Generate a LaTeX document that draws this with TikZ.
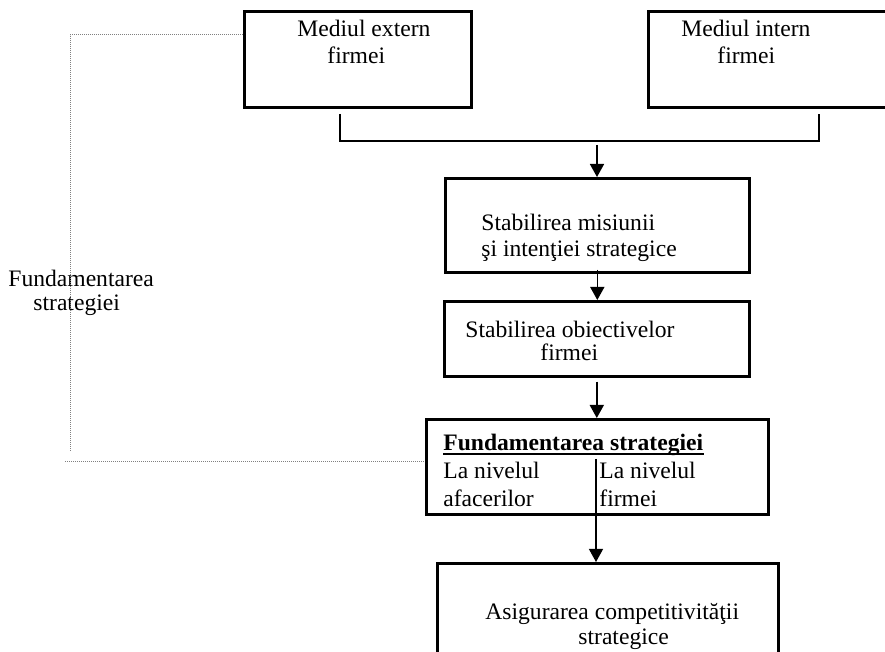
\documentclass[tikz,border=0pt]{standalone}
\usepackage{fontspec}
\setmainfont{Liberation Serif}
\usetikzlibrary{arrows.meta}
\begin{document}
\begin{tikzpicture}[x=0.5pt,y=-0.5pt,
  box/.style={draw, line width=1.3pt, inner sep=0, anchor=north west},
  txt/.style={inner sep=0, anchor=base west, font=\fontsize{11.8}{13.5}\selectfont},
  flow/.style={line width=0.8pt, -{Triangle[width=7pt,length=6.5pt]}},
  thinflow/.style={line width=0.6pt, -{Triangle[width=7pt,length=6.5pt]}},
  bracket/.style={line width=1pt},
  dots/.style={line width=0.5pt, gray, dash pattern=on 0.5pt off 0.5pt}]
\useasboundingbox (0,0) rectangle (885,652);
\clip (0,0) rectangle (885,652);

% boxes
\node[box, minimum width=113.5pt, minimum height=48pt]   (b1) at (243,10)  {};
\node[box, minimum width=121.5pt, minimum height=48pt]   (b2) at (647,10)  {};
\node[box, minimum width=152pt,   minimum height=47pt]   (b3) at (444,177) {};
\node[box, minimum width=152.5pt, minimum height=37.5pt] (b4) at (443,300) {};
\node[box, minimum width=171pt,   minimum height=47.5pt] (b5) at (425,418) {};
\node[box, minimum width=170.5pt, minimum height=54pt]   (b6) at (436,562) {};

% texts
\node[txt] (t1a) at (297,37) {Mediul extern};
\node[txt] (t1b) at (327,64) {firmei};
\node[txt] (t2a) at (681,37) {Mediul intern};
\node[txt] (t2b) at (717,64) {firmei};
\node[txt] (t3a) at (481,231) {Stabilirea misiunii};
\node[txt] (t3b) at (481,257) {şi intenţiei strategice};
\node[txt] (t4a) at (465,338) {Stabilirea obiectivelor};
\node[txt] (t4b) at (540,361) {firmei};
\node[txt, font=\fontsize{11.8}{13.5}\selectfont\bfseries] (t5) at (443,451) {Fundamentarea strategiei};
\node[txt] (t5a) at (443,479) {La nivelul};
\node[txt] (t5b) at (443,507) {afacerilor};
\node[txt] (t5c) at (599,479) {La nivelul};
\node[txt] (t5d) at (599,507) {firmei};
\node[txt] (t6a) at (485,620) {Asigurarea competitivităţii};
\node[txt] (t6b) at (578,645) {strategice};
\node[txt] (L1) at (8,287) {Fundamentarea};
\node[txt] (L2) at (33,311) {strategiei};

% underline of the heading
\draw[line width=1pt] ([yshift=-1.6pt]t5.base west) -- ([yshift=-1.6pt]t5.base east);

% bracket joining the two environments
\coordinate (jl) at (340,114);
\coordinate (jr) at (819,114);
\coordinate (jy) at (0,141);
\draw[bracket] (jl) -- (jl |- jy) -- (jr |- jy) -- (jr);

% flow arrows
\coordinate (j) at (597,145);
\draw[flow] (j) -- (j |- b3.north);
\draw[flow] ([yshift=2pt]b3.south) -- (b3.south |- b4.north);
\draw[flow] ([yshift=-2pt]b4.south) -- (b4.south |- b5.north);
\coordinate (dv) at (596,459);
\draw[thinflow] (dv) -- (dv |- b6.north);

% dotted feedback line
\coordinate (dt) at (70,35);
\coordinate (db) at (70,452);
\coordinate (dl) at (65,462);
\draw[dots] (b1.west |- dt) -- (dt) -- (db);
\draw[dots] (dl) -- (dl -| b5.west);
\end{tikzpicture}
\end{document}
